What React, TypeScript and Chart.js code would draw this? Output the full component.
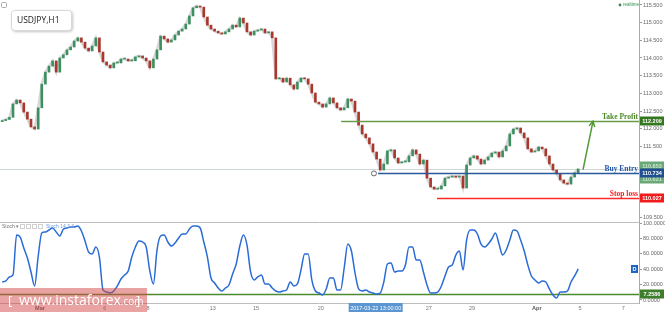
import React, { useEffect, useRef } from "react";
import { Chart, registerables } from "chart.js";

Chart.register(...registerables);
Chart.defaults.font.family = "'Liberation Sans', Arial, sans-serif";

// ---------- data ----------
const SYMBOL = "USDJPY,H1";
const START_DAY = -1.75; // trading-day index of first candle (Mar 1 = 0)
const STEP_DAY = 1 / 6; // 4-hour candles
const FIRST_OPEN = 112.2;

const closes = [
  112.23, 112.26, 112.32, 112.7, 112.81, 112.73, 112.47, 112.27, 112.05, 111.99,
  112.59, 113.26, 113.6, 113.77, 113.92, 113.6, 114.0, 114.09, 114.23, 114.31,
  114.48, 114.57, 114.45, 114.28, 114.2, 114.34, 114.57, 114.17, 113.89, 113.8,
  113.72, 113.86, 113.86, 113.97, 113.97, 113.92, 113.92, 114.03, 114.06, 114.0,
  113.92, 113.72, 113.97, 114.23, 114.62, 114.54, 114.45, 114.51, 114.65, 114.76,
  114.82, 114.96, 115.19, 115.42, 115.47, 115.44, 115.16, 114.93, 114.82, 114.76,
  114.71, 114.68, 114.74, 114.82, 114.93, 114.88, 115.13, 114.99, 114.74, 114.65,
  114.76, 114.79, 114.82, 114.71, 114.74, 114.57, 113.41, 113.43, 113.32, 113.43,
  113.24, 113.12, 113.32, 113.43, 113.41, 113.26, 113.01, 112.75, 112.7, 112.61,
  112.7, 112.87, 112.73, 112.59, 112.53, 112.59, 112.84, 112.78, 112.47, 112.1,
  111.85, 111.74, 111.57, 111.34, 111.14, 110.83, 111.0, 111.37, 111.4, 111.17,
  111.03, 111.06, 111.06, 111.23, 111.4, 111.28, 111.0, 111.11, 110.6, 110.35,
  110.29, 110.29, 110.38, 110.6, 110.63, 110.66, 110.63, 110.66, 110.32, 110.97,
  111.17, 111.23, 111.14, 111.0, 111.11, 111.2, 111.31, 111.34, 111.2, 111.37,
  111.51, 111.85, 111.99, 112.02, 111.88, 111.74, 111.43, 111.34, 111.37, 111.48,
  111.43, 111.23, 111.0, 110.83, 110.72, 110.55, 110.46, 110.43, 110.63, 110.75,
  110.86,
];

const stochValues = [
  23.4, 24.7, 29.9, 32.5, 84.4, 81.8, 67.5, 54.5, 36.4, 18.2,
  57.1, 87.0, 88.3, 90.9, 93.5, 88.3, 83.1, 92.2, 93.5, 94.8,
  94.8, 96.1, 89.6, 76.6, 62.3, 59.7, 68.8, 55.8, 13.0, 10.4,
  9.1, 11.7, 18.2, 27.3, 32.5, 37.7, 55.8, 68.8, 76.6, 75.3,
  68.8, 37.7, 20.8, 64.9, 83.1, 84.4, 75.3, 70.1, 74.0, 80.5,
  85.7, 85.7, 92.2, 96.1, 96.1, 93.5, 75.3, 55.8, 28.6, 22.1,
  15.6, 11.7, 15.6, 19.5, 33.8, 46.8, 70.1, 84.4, 71.4, 36.4,
  26.0, 29.9, 32.5, 20.8, 20.8, 15.6, 11.7, 10.4, 11.7, 13.0,
  23.4, 18.2, 20.8, 39.0, 59.7, 59.7, 26.0, 11.7, 9.1, 6.5,
  14.3, 28.6, 28.6, 13.0, 13.0, 41.6, 72.7, 63.6, 35.1, 14.3,
  11.7, 13.0, 10.4, 9.1, 7.8, 9.1, 23.4, 46.8, 48.1, 36.4,
  37.7, 37.7, 45.5, 68.8, 68.8, 51.9, 51.9, 36.4, 19.5, 9.1,
  9.1, 10.4, 18.2, 31.2, 42.9, 45.5, 58.4, 63.6, 39.0, 77.9,
  90.9, 90.9, 85.7, 72.7, 68.8, 72.7, 79.2, 87.0, 72.7, 58.4,
  64.9, 77.9, 90.9, 89.6, 77.9, 63.6, 45.5, 31.2, 26.0, 22.1,
  24.7, 23.4, 14.3, 6.5, 2.6, 10.4, 10.4, 11.7, 23.4, 31.2,
  40.3,
];

const dayTicks = [0, 3, 5, 8, 10, 13, 18, 20, 23, 25, 27];
const dayTickLabels = ["Mar", "6", "8", "13", "15", "20", "27", "29", "Apr", "5", "7"];
const boldDayLabels = ["Mar", "Apr"];
const priceTicks = [109.5, 110, 110.5, 111, 111.5, 112, 112.5, 113, 113.5, 114, 114.5, 115, 115.5];
const stochTicks = [0, 20, 40, 60, 80, 100];

const TAKE_PROFIT = 112.209;
const BUY_ENTRY = 110.734;
const STOP_LOSS = 110.027;
const LAST_PRICE = 110.86;
const ASK_PRICE = 110.853;
const BID_PRICE = 110.621;
const STOCH_LEVEL = 7.2586;
const CROSS_DAY = 15.54;
const CROSS_LABEL = "2017-03-22 13:00:00";

const TP_FROM_DAY = 13.94;
const BUY_FROM_DAY = 15.65;
const BUY_CIRCLE_DAY = 15.46;
const SL_FROM_DAY = 18.38;
const ARROW_FROM = { day: 25.14, price: 110.84 };
const ARROW_TO = { day: 25.6, price: TAKE_PROFIT };

// ---------- scale ranges ----------
const X_MIN = -1.852;
const X_MAX = 27.731;
const PRICE_MIN = 109.3585;
const PRICE_MAX = 115.6415;
const STOCH_MIN = -3.9;
const STOCH_MAX = 101.3;
const AXIS_W = 26;

const GREEN = "#3d8f60";
const RED = "#a8382e";

const candleData = closes.map((c, i) => {
  const o = i === 0 ? FIRST_OPEN : closes[i - 1];
  return { x: START_DAY + i * STEP_DAY, y: [o, c] };
});
const candleColors = closes.map((c, i) => {
  const o = i === 0 ? FIRST_OPEN : closes[i - 1];
  return c >= o ? GREEN : RED;
});
const closeLine = closes.map((c, i) => ({ x: START_DAY + i * STEP_DAY, y: c }));
const stochData = stochValues.map((v, i) => ({ x: START_DAY + i * STEP_DAY, y: v }));

function fixY(s: any) {
  s.width = AXIS_W;
  s.paddingTop = 0;
  s.paddingBottom = 0;
}

function valueBox(ctx: CanvasRenderingContext2D, left: number, yPix: number, text: string, bg: string, fg: string) {
  ctx.fillStyle = bg;
  ctx.fillRect(left + 1, Math.round(yPix) - 4.5, 24, 9);
  ctx.fillStyle = fg;
  ctx.font = "bold 5.5px 'Liberation Sans'";
  ctx.textAlign = "center";
  ctx.textBaseline = "middle";
  ctx.fillText(text, left + 13, yPix + 0.5);
}

function levelLine(chart: any, fromDay: number, price: number, color: string, textColor: string, label: string) {
  const { ctx, chartArea } = chart;
  const px = chart.scales.x.getPixelForValue(fromDay);
  const py = Math.round(chart.scales.y.getPixelForValue(price)) + 0.5;
  ctx.strokeStyle = color;
  ctx.lineWidth = 1.5;
  ctx.beginPath();
  ctx.moveTo(px, py);
  ctx.lineTo(chartArea.right, py);
  ctx.stroke();
  ctx.font = "bold 7.5px 'Liberation Serif'";
  ctx.textAlign = "right";
  ctx.textBaseline = "alphabetic";
  ctx.fillStyle = textColor;
  ctx.fillText(label, chartArea.right - 1, py - 2.5);
}

const topDecor = {
  id: "topDecor",
  beforeDatasetsDraw(chart: any) {
    const { ctx, chartArea } = chart;
    const py = Math.round(chart.scales.y.getPixelForValue(LAST_PRICE)) + 0.5;
    ctx.save();
    ctx.strokeStyle = "#cfd6d8";
    ctx.lineWidth = 1;
    ctx.beginPath();
    ctx.moveTo(chartArea.left, py);
    ctx.lineTo(chartArea.right, py);
    ctx.stroke();
    ctx.restore();
  },
  afterDatasetsDraw(chart: any) {
    const { ctx, chartArea } = chart;
    const xs = chart.scales.x;
    const ys = chart.scales.y;
    ctx.save();
    levelLine(chart, TP_FROM_DAY, TAKE_PROFIT, "#6a9b47", "#4d8a2a", "Take Profit");
    levelLine(chart, BUY_FROM_DAY, BUY_ENTRY, "#2a5a9e", "#2255aa", "Buy Entry");
    levelLine(chart, SL_FROM_DAY, STOP_LOSS, "#ff2a2a", "#ff1a1a", "Stop loss");

    // circle at buy entry start
    ctx.strokeStyle = "#666";
    ctx.lineWidth = 1;
    ctx.beginPath();
    ctx.arc(xs.getPixelForValue(BUY_CIRCLE_DAY), ys.getPixelForValue(BUY_ENTRY), 2.5, 0, Math.PI * 2);
    ctx.fillStyle = "#fff";
    ctx.fill();
    ctx.stroke();

    // arrow
    const ax0 = xs.getPixelForValue(ARROW_FROM.day);
    const ay0 = ys.getPixelForValue(ARROW_FROM.price);
    const ax1 = xs.getPixelForValue(ARROW_TO.day);
    const ay1 = ys.getPixelForValue(ARROW_TO.price);
    ctx.strokeStyle = "#4f9a35";
    ctx.lineWidth = 1.5;
    ctx.beginPath();
    ctx.moveTo(ax0, ay0);
    ctx.lineTo(ax1, ay1);
    ctx.stroke();
    const ang = Math.atan2(ay1 - ay0, ax1 - ax0);
    ctx.beginPath();
    ctx.moveTo(ax1 - 6 * Math.cos(ang - 0.5), ay1 - 6 * Math.sin(ang - 0.5));
    ctx.lineTo(ax1, ay1);
    ctx.lineTo(ax1 - 6 * Math.cos(ang + 0.5), ay1 - 6 * Math.sin(ang + 0.5));
    ctx.stroke();

    // right value boxes
    const r = chartArea.right;
    valueBox(ctx, r, ys.getPixelForValue(TAKE_PROFIT), TAKE_PROFIT.toFixed(3), "#35771f", "#fff");
    valueBox(ctx, r, ys.getPixelForValue(ASK_PRICE) - 3, ASK_PRICE.toFixed(3), "#6aa878", "#c9e5cf");
    valueBox(ctx, r, ys.getPixelForValue(BID_PRICE) + 2, BID_PRICE.toFixed(3), "#6aa878", "#c9e5cf");
    valueBox(ctx, r, ys.getPixelForValue(BUY_ENTRY), BUY_ENTRY.toFixed(3), "#1f4f8f", "#fff");
    valueBox(ctx, r, ys.getPixelForValue(STOP_LOSS), STOP_LOSS.toFixed(3), "#f01c1c", "#fff");

    // symbol box
    ctx.save();
    ctx.shadowColor = "rgba(0,0,0,0.3)";
    ctx.shadowBlur = 3;
    ctx.shadowOffsetX = 1;
    ctx.shadowOffsetY = 1;
    ctx.fillStyle = "#fff";
    ctx.beginPath();
    (ctx as any).roundRect(11.5, 10.5, 60, 20, 3);
    ctx.fill();
    ctx.restore();
    ctx.strokeStyle = "#d8d8d8";
    ctx.lineWidth = 1;
    ctx.beginPath();
    (ctx as any).roundRect(11.5, 10.5, 60, 20, 3);
    ctx.stroke();
    ctx.fillStyle = "#222";
    ctx.font = "8.5px 'Open Sans'";
    ctx.textAlign = "left";
    ctx.textBaseline = "middle";
    ctx.fillText(SYMBOL, 17, 20.5);

    // tiny corner icon
    ctx.strokeStyle = "#aaa";
    ctx.beginPath();
    (ctx as any).roundRect(1.5, 2.5, 5, 5, 1);
    ctx.stroke();

    // realtime
    ctx.fillStyle = "#2f8f4f";
    ctx.beginPath();
    ctx.arc(620, 5, 1.4, 0, Math.PI * 2);
    ctx.fill();
    ctx.font = "4.5px 'Liberation Sans'";
    ctx.textAlign = "left";
    ctx.textBaseline = "middle";
    ctx.fillText("realtime", 623, 5);
    ctx.restore();
  },
};

const bottomDecor = {
  id: "bottomDecor",
  beforeDatasetsDraw(chart: any) {
    const { ctx, chartArea } = chart;
    const ys = chart.scales.y;
    ctx.save();
    ctx.strokeStyle = "#bdbdbd";
    ctx.lineWidth = 1;
    ctx.beginPath();
    ctx.moveTo(0, chartArea.top + 0.5);
    ctx.lineTo(chartArea.right, chartArea.top + 0.5);
    ctx.moveTo(0, chartArea.bottom + 0.5);
    ctx.lineTo(chartArea.right, chartArea.bottom + 0.5);
    ctx.stroke();
    const ly = ys.getPixelForValue(STOCH_LEVEL);
    ctx.strokeStyle = "#4c8a2e";
    ctx.lineWidth = 1.5;
    ctx.beginPath();
    ctx.moveTo(0, ly);
    ctx.lineTo(chartArea.right, ly);
    ctx.stroke();
    ctx.restore();
  },
  afterDraw(chart: any) {
    const { ctx, chartArea } = chart;
    const xs = chart.scales.x;
    const ys = chart.scales.y;
    ctx.save();
    const r = chartArea.right;
    valueBox(ctx, r, ys.getPixelForValue(STOCH_LEVEL), STOCH_LEVEL.toFixed(4), "#3e7d2c", "#fff");

    // D marker
    const dy = ys.getPixelForValue(stochValues[stochValues.length - 1]);
    ctx.fillStyle = "#1f62c4";
    ctx.fillRect(r - 8, dy - 4, 7, 8);
    ctx.fillStyle = "#fff";
    ctx.font = "bold 5.5px 'Liberation Sans'";
    ctx.textAlign = "center";
    ctx.textBaseline = "middle";
    ctx.fillText("D", r - 4.5, dy + 0.5);

    // Stoch label
    ctx.fillStyle = "#777";
    ctx.font = "5px 'Liberation Sans'";
    ctx.textAlign = "left";
    ctx.fillText("Stoch \u25be", 2, chartArea.top + 5);
    ctx.strokeStyle = "#d0d0d0";
    ctx.lineWidth = 1;
    for (let k = 0; k < 4; k++) {
      ctx.strokeRect(20.5 + k * 6, chartArea.top + 2.5, 4, 4);
    }
    ctx.fillStyle = "#6f9fe0";
    ctx.fillText("Stoch 14 3 3", 46, chartArea.top + 5);

    // crosshair date label
    const cx = xs.getPixelForValue(CROSS_DAY);
    ctx.fillStyle = "#5b96d2";
    ctx.fillRect(cx - 27, chartArea.bottom, 54, 10);
    ctx.fillStyle = "#fff";
    ctx.font = "5.5px 'Liberation Sans'";
    ctx.textAlign = "center";
    ctx.textBaseline = "middle";
    ctx.fillText(CROSS_LABEL, cx, chartArea.bottom + 5);

    // watermark
    const wy = chart.height - 24;
    ctx.fillStyle = "rgba(214,72,72,0.5)";
    ctx.fillRect(0, wy, 147, 24);
    ctx.fillStyle = "#fff";
    ctx.textAlign = "left";
    ctx.textBaseline = "alphabetic";
    ctx.font = "13px 'Open Sans'";
    const base = wy + 17;
    ctx.fillText("[", 8, base);
    ctx.font = "14px 'Open Sans'";
    ctx.fillText("www.instaforex", 19, base);
    const w1 = ctx.measureText("www.instaforex").width;
    ctx.font = "10px 'Open Sans'";
    ctx.fillText(".com", 19 + w1, base);
    ctx.font = "13px 'Open Sans'";
    ctx.fillText("]", 136, base);
    ctx.restore();
  },
};

export default function App() {
  const topRef = useRef<HTMLCanvasElement>(null);
  const botRef = useRef<HTMLCanvasElement>(null);

  useEffect(() => {
    if (!topRef.current || !botRef.current) return;
    const top = new Chart(topRef.current, {
      type: "bar",
      data: {
        datasets: [
          {
            type: "line",
            data: closeLine as any,
            borderColor: "rgba(140,140,140,0.35)",
            borderWidth: 2.5,
            pointRadius: 0,
            order: 2,
          } as any,
          {
            data: candleData as any,
            backgroundColor: candleColors,
            barThickness: 2,
            minBarLength: 1,
            grouped: false,
            order: 1,
          } as any,
        ],
      },
      options: {
        responsive: false,
        animation: false,
        devicePixelRatio: 1,
        layout: { padding: 0 },
        plugins: { legend: { display: false }, tooltip: { enabled: false } },
        scales: {
          x: { type: "linear", display: false, min: X_MIN, max: X_MAX, offset: false } as any,
          y: {
            position: "right",
            min: PRICE_MIN,
            max: PRICE_MAX,
            afterBuildTicks: (s: any) => {
              s.ticks = priceTicks.map((v) => ({ value: v }));
            },
            afterFit: fixY,
            ticks: {
              font: { size: 5.5 },
              color: "#666",
              padding: 1,
              callback: (v: any) => Number(v).toFixed(3),
            },
            grid: { drawOnChartArea: false, tickLength: 3, color: "#999" },
            border: { color: "#aaa" },
          } as any,
        },
      },
      plugins: [topDecor],
    });

    const bot = new Chart(botRef.current, {
      type: "line",
      data: {
        datasets: [
          {
            data: stochData as any,
            borderColor: "#2a6bd6",
            borderWidth: 1.5,
            pointRadius: 0,
            cubicInterpolationMode: "monotone",
            fill: false,
          } as any,
        ],
      },
      options: {
        responsive: false,
        animation: false,
        devicePixelRatio: 1,
        layout: { padding: { top: 10, left: 0, right: 0, bottom: 0 } },
        plugins: { legend: { display: false }, tooltip: { enabled: false } },
        scales: {
          x: {
            type: "linear",
            min: X_MIN,
            max: X_MAX,
            offset: false,
            afterBuildTicks: (s: any) => {
              s.ticks = dayTicks.map((v) => ({ value: v }));
            },
            afterFit: (s: any) => {
              s.height = 9;
              s.paddingLeft = 0;
              s.paddingRight = 0;
            },
            ticks: {
              autoSkip: false,
              maxRotation: 0,
              padding: 2,
              color: (c: any) => {
                const i = dayTicks.indexOf(c.tick ? c.tick.value : -99);
                return i >= 0 && boldDayLabels.includes(dayTickLabels[i]) ? "#555" : "#777";
              },
              font: (c: any) => {
                const i = dayTicks.indexOf(c.tick ? c.tick.value : -99);
                const bold = i >= 0 && boldDayLabels.includes(dayTickLabels[i]);
                return { size: 5.5, weight: bold ? "bold" : "normal" };
              },
              callback: (v: any) => {
                const i = dayTicks.indexOf(Number(v));
                return i >= 0 ? dayTickLabels[i] : "";
              },
            },
            grid: { display: false, drawTicks: false },
            border: { display: false },
          } as any,
          y: {
            position: "right",
            min: STOCH_MIN,
            max: STOCH_MAX,
            afterBuildTicks: (s: any) => {
              s.ticks = stochTicks.map((v) => ({ value: v }));
            },
            afterFit: fixY,
            ticks: {
              font: { size: 5.5 },
              color: "#666",
              padding: 1,
              callback: (v: any) => Number(v).toFixed(4),
            },
            grid: { drawOnChartArea: false, tickLength: 3, color: "#999" },
            border: { color: "#aaa" },
          } as any,
        },
      },
      plugins: [bottomDecor],
    });

    return () => {
      top.destroy();
      bot.destroy();
    };
  }, []);

  return (
    <div
      style={{
        position: "fixed",
        left: 0,
        top: 0,
        width: 665,
        height: 312,
        background: "#fff",
        overflow: "hidden",
      }}
    >
      <canvas
        ref={topRef}
        width={665}
        height={222}
        style={{ position: "absolute", left: 0, top: 0, width: 665, height: 222 }}
      />
      <canvas
        ref={botRef}
        width={665}
        height={100}
        style={{ position: "absolute", left: 0, top: 212, width: 665, height: 100 }}
      />
    </div>
  );
}
